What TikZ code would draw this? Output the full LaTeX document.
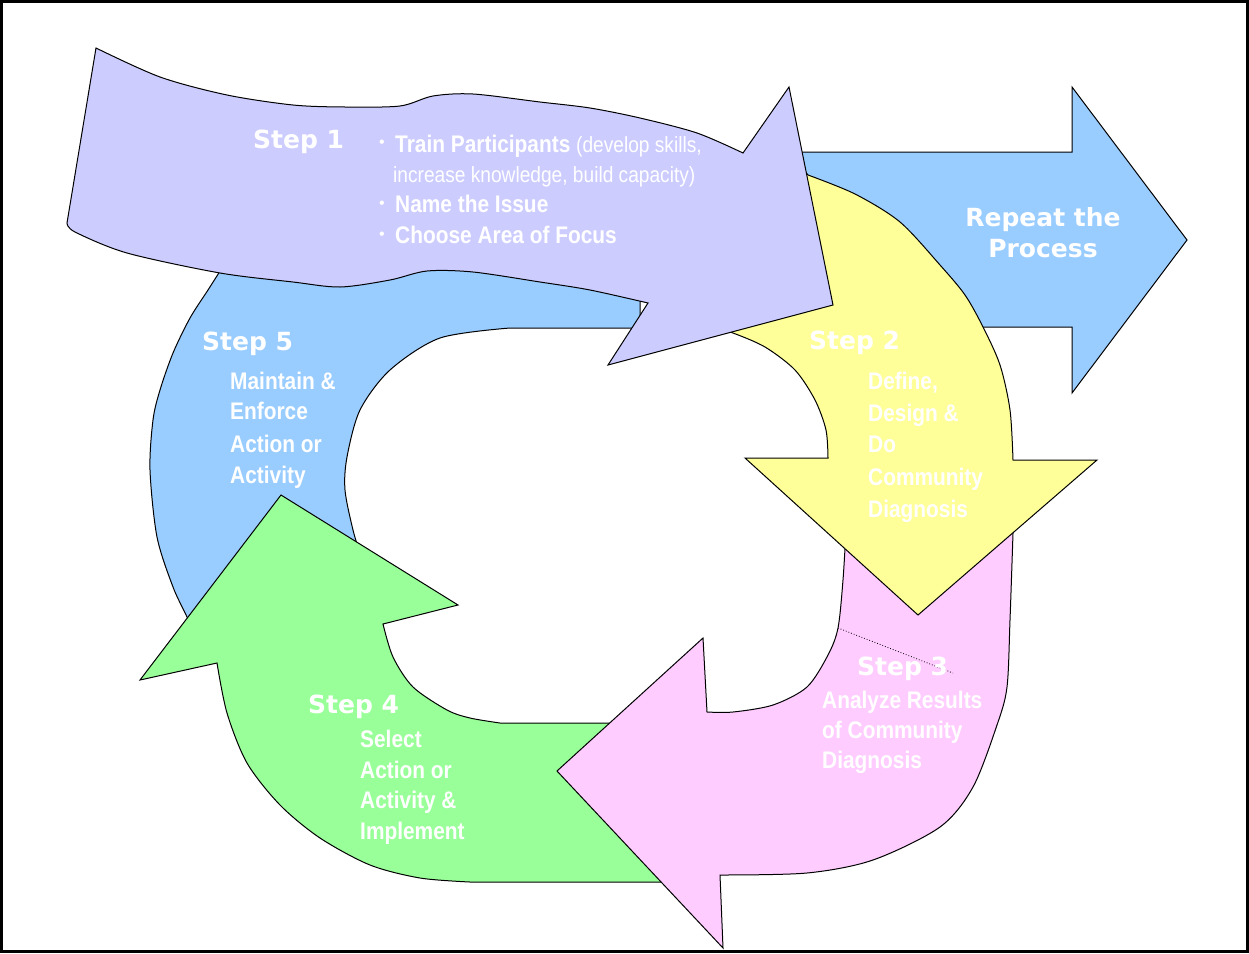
\documentclass[tikz,border=0pt]{standalone}
\usepackage{fontspec}
\setmainfont{Liberation Sans}
\newfontfamily\stepfont{DejaVu Sans}
\newfontfamily\narrowfont[FakeStretch=0.87]{Liberation Sans}
\definecolor{lav}{HTML}{CCCCFF}
\definecolor{skyb}{HTML}{99CCFF}
\definecolor{lyel}{HTML}{FFFF99}
\definecolor{lpink}{HTML}{FFCCFF}
\definecolor{lgreen}{HTML}{99FF99}
\tikzset{
  arrowshape/.style={draw=black, line width=1pt, line join=miter},
  stepone/.style={arrowshape, fill=lav},
  stepfive/.style={arrowshape, fill=skyb},
  repeatarrow/.style={arrowshape, fill=skyb},
  steptwo/.style={arrowshape, fill=lyel},
  stepthree/.style={arrowshape, fill=lpink},
  stepfour/.style={arrowshape, fill=lgreen},
  steplabel/.style={anchor=base west, inner sep=0pt, text=white, font=\stepfont\bfseries\fontsize{25}{30}\selectfont},
  bodytext/.style={anchor=base west, inner sep=0pt, text=white, font=\narrowfont\bfseries\fontsize{24}{30}\selectfont},
  thintext/.style={anchor=base west, inner sep=0pt, text=white, font=\narrowfont\fontsize{22}{28}\selectfont},
  bulletmark/.style={inner sep=0pt, text=white, font=\fontsize{16}{16}\selectfont},
  repeattext/.style={anchor=base, inner sep=0pt, text=white, font=\stepfont\bfseries\fontsize{25}{30}\selectfont},
}
\begin{document}
\begin{tikzpicture}[x=1pt,y=-1pt]
\useasboundingbox (0,0) rectangle (1249,953);
\fill[white] (0,0) rectangle (1249,953);

% Step 5 (blue ring)
\path[stepfive] (232,258) -- (640,258) -- (640,328) -- (510,328)
  -- plot[smooth] coordinates {(510,328) (440,338) (390,370) (360,410) (347,457) (345,490) (353,530) (362,560)}
  -- (200,648)
  -- plot[smooth] coordinates {(200,648) (187,617) (173,587) (157,537) (150,470) (153,420) (160,390) (173,353) (190,318) (208,290) (222,268)}
  -- cycle;

% Step 4 (green)
\path[stepfour] (625,723) -- (500,723)
  -- plot[smooth] coordinates {(500,723) (470,718) (447,710) (413,687) (393,657) (383,624)}
  -- (458,605) -- (281,495) -- (140,680) -- (217,663)
  -- plot[smooth] coordinates {(217,663) (227,713) (247,763) (280,805) (320,838) (370,865) (420,878) (470,882)}
  -- (668,882) -- cycle;

% Step 3 (pink)
\path[stepthree] (846,530) -- (1013,530)
  -- plot[smooth] coordinates {(1013,533) (1010,620) (1007,687) (997,725) (973,787) (940,827) (873,860) (807,873) (720,875)}
  -- (723,948) -- (557,771) -- (703,638) -- (707,712)
  -- plot[smooth] coordinates {(707,712) (733,712) (773,705) (807,687) (828,655) (838,628) (843,580) (846,530)}
  -- cycle;
\coordinate (dotA) at (838,628);
\coordinate (dotB) at (953,673);
\draw[dotted, line width=0.8pt] (dotA) -- (dotB);

% Repeat the process arrow
\path[repeatarrow] (795,152) -- (1072,152) -- (1072,87) -- (1187,240) -- (1072,393) -- (1072,327) -- (795,327) -- cycle;

% Step 2 (yellow)
\path[steptwo] (795,160)
  -- plot[smooth] coordinates {(808,175) (855,194) (900,222) (940,265) (965,295) (983,327) (1000,365) (1010,410) (1013,460)}
  -- (1097,460) -- (918,615) -- (745,458) -- (828,458)
  -- plot[smooth] coordinates {(828,458) (826,430) (815,400) (795,370) (765,347) (733,333) (715,328)}
  -- cycle;

% Step 1 (lavender)
\path[stepone] (96,48)
  -- plot[smooth] coordinates {(96,48) (160,77) (227,95) (293,105) (345,107) (400,106) (433,96) (473,94) (540,102) (590,108) (640,118) (697,133) (743,153)}
  -- (789,87) -- (833,305) -- (608,365) -- (648,303)
  -- plot[smooth] coordinates {(648,303) (590,290) (540,282) (473,272) (427,271) (390,280) (340,287) (293,282) (220,273) (127,253) (75,232) (67,223)}
  -- cycle;

% Texts
\node[steplabel] (s1) at (253,148) {Step 1};
\node[bulletmark] (b1) at (382,144) {•};
\node[bulletmark] (b2) at (382,205) {•};
\node[bulletmark] (b3) at (382,236) {•};
\node[bodytext] (t1) at (395,152) {Train Participants {\mdseries\fontsize{22}{28}\selectfont (develop skills,}};
\node[thintext] (t2) at (393,182) {increase knowledge, build capacity)};
\node[bodytext] (t3) at (395,212) {Name the Issue};
\node[bodytext] (t4) at (395,243) {Choose Area of Focus};

\node[repeattext] (r1) at (1043,226) {Repeat the};
\node[repeattext] (r2) at (1043,257) {Process};

\node[steplabel] (s5) at (202,350) {Step 5};
\node[bodytext] (m1) at (230,389) {Maintain \&};
\node[bodytext] (m2) at (230,419) {Enforce};
\node[bodytext] (m3) at (230,452) {Action or};
\node[bodytext] (m4) at (230,483) {Activity};

\node[steplabel] (s2) at (809,349) {Step 2};
\node[bodytext] (d1) at (868,389) {Define,};
\node[bodytext] (d2) at (868,421) {Design \&};
\node[bodytext] (d3) at (868,452) {Do};
\node[bodytext] (d4) at (868,485) {Community};
\node[bodytext] (d5) at (868,517) {Diagnosis};

\node[steplabel] (s3) at (857,675) {Step 3};
\node[bodytext] (a1) at (822,708) {Analyze Results};
\node[bodytext] (a2) at (822,738) {of Community};
\node[bodytext] (a3) at (822,768) {Diagnosis};

\node[steplabel] (s4) at (308,713) {Step 4};
\node[bodytext] (e1) at (360,747) {Select};
\node[bodytext] (e2) at (360,778) {Action or};
\node[bodytext] (e3) at (360,808) {Activity \&};
\node[bodytext] (e4) at (360,839) {Implement};

% frame
\draw[line width=2.5pt] (1.5,1.5) rectangle (1247.5,951.5);
\end{tikzpicture}
\end{document}
